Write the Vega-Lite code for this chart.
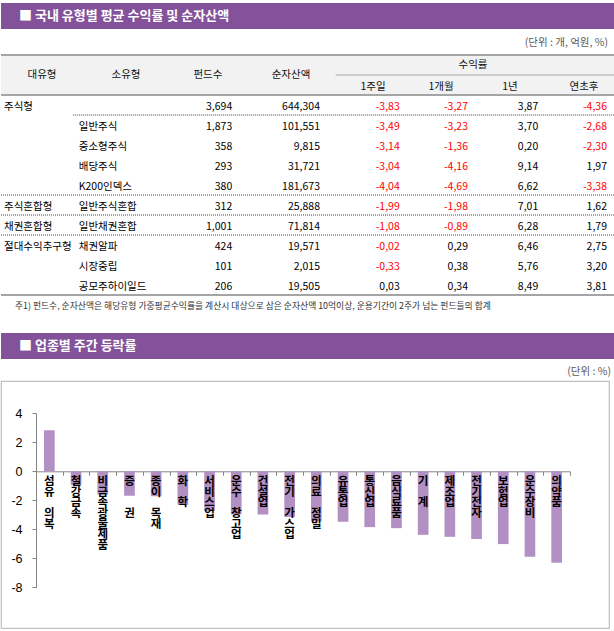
{
  "$schema": "https://vega.github.io/schema/vega-lite/v6.json",
  "background": "white",
  "padding": {"left": 0, "top": 3, "right": 0, "bottom": 0},
  "spacing": 0,
  "bounds": "flush",
  "config": {
    "view": {"stroke": null},
    "font": "Noto Sans CJK KR",
    "text": {"font": "Noto Sans CJK KR"},
    "locale": {"number": {"decimal": ",", "thousands": ",", "grouping": [3], "currency": ["", ""], "minus": "-"}}
  },
  "datasets": {
    "funds": [
      {"major": "주식형", "minor": "", "n": 3694, "aum": 644304, "w1": -3.83, "m1": -3.27, "y1": 3.87, "ytd": -4.36},
      {"major": "", "minor": "일반주식", "n": 1873, "aum": 101551, "w1": -3.49, "m1": -3.23, "y1": 3.70, "ytd": -2.68},
      {"major": "", "minor": "중소형주식", "n": 358, "aum": 9815, "w1": -3.14, "m1": -1.36, "y1": 0.20, "ytd": -2.30},
      {"major": "", "minor": "배당주식", "n": 293, "aum": 31721, "w1": -3.04, "m1": -4.16, "y1": 9.14, "ytd": 1.97},
      {"major": "", "minor": "K200인덱스", "n": 380, "aum": 181673, "w1": -4.04, "m1": -4.69, "y1": 6.62, "ytd": -3.38},
      {"major": "주식혼합형", "minor": "일반주식혼합", "n": 312, "aum": 25888, "w1": -1.99, "m1": -1.98, "y1": 7.01, "ytd": 1.62},
      {"major": "채권혼합형", "minor": "일반채권혼합", "n": 1001, "aum": 71814, "w1": -1.08, "m1": -0.89, "y1": 6.28, "ytd": 1.79},
      {"major": "절대수익추구형", "minor": "채권알파", "n": 424, "aum": 19571, "w1": -0.02, "m1": 0.29, "y1": 6.46, "ytd": 2.75},
      {"major": "", "minor": "시장중립", "n": 101, "aum": 2015, "w1": -0.33, "m1": 0.38, "y1": 5.76, "ytd": 3.20},
      {"major": "", "minor": "공모주하이일드", "n": 206, "aum": 19505, "w1": 0.03, "m1": 0.34, "y1": 8.49, "ytd": 3.81}
    ],
    "sectors": [
      {"sector": "섬유 의복", "value": 2.83},
      {"sector": "철강금속", "value": -0.95},
      {"sector": "비금속광물제품", "value": -1.6},
      {"sector": "증  권", "value": -1.68},
      {"sector": "종이 목재", "value": -1.72},
      {"sector": "화 학", "value": -2.3},
      {"sector": "서비스업", "value": -2.73},
      {"sector": "운수 창고업", "value": -2.97},
      {"sector": "건설업", "value": -2.98},
      {"sector": "전기 가스업", "value": -3.15},
      {"sector": "의료 정밀", "value": -3.45},
      {"sector": "유통업", "value": -3.48},
      {"sector": "통신업", "value": -3.85},
      {"sector": "음식료품", "value": -3.92},
      {"sector": "기 계", "value": -4.38},
      {"sector": "제조업", "value": -4.52},
      {"sector": "전기전자", "value": -4.67},
      {"sector": "보험업", "value": -5.02},
      {"sector": "운수장비", "value": -5.9},
      {"sector": "의약품", "value": -6.3}
    ]
  },
  "vconcat": [
    {
      "width": 614, "height": 26,
      "view": {"fill": "#83529A", "stroke": null},
      "data": {"values": [{}]},
      "mark": {"type": "text", "text": "■ 국내 유형별 평균 수익률 및 순자산액", "align": "left", "baseline": "middle", "color": "#FFFFFF", "fontSize": 13, "fontWeight": "bold"},
      "encoding": {"x": {"value": 18}, "y": {"value": 13}}
    },
    {
      "width": 614, "height": 304,
      "layer": [
        {
          "data": {"values": [{"k": "h1"}, {"k": "h2"}]},
          "mark": {"type": "rect", "color": "#F2F2F2"},
          "encoding": {
            "y": {"field": "k", "type": "nominal", "axis": null, "scale": {"type": "band", "domain": ["unit", "h1", "h2", "", "일반주식", "중소형주식", "배당주식", "K200인덱스", "일반주식혼합", "일반채권혼합", "채권알파", "시장중립", "공모주하이일드", "note"], "paddingInner": 0, "paddingOuter": 0.6, "align": 0.25}},
            "x": {"value": 0}, "x2": {"value": "width"}
          }
        },
        {
          "data": {"values": [{"k": "h1"}, {"k": ""}, {"k": "note"}]},
          "mark": {"type": "rule", "color": "#A5A5A5", "strokeWidth": 2},
          "encoding": {
            "y": {"field": "k", "type": "nominal", "bandPosition": 0, "axis": null, "scale": {"type": "band", "domain": ["unit", "h1", "h2", "", "일반주식", "중소형주식", "배당주식", "K200인덱스", "일반주식혼합", "일반채권혼합", "채권알파", "시장중립", "공모주하이일드", "note"], "paddingInner": 0, "paddingOuter": 0.6, "align": 0.25}},
            "x": {"value": 0}, "x2": {"value": "width"}
          }
        },
        {
          "data": {"values": [{}]},
          "mark": {"type": "rule", "color": "#A5A5A5", "strokeWidth": 1},
          "encoding": {
            "y": {"datum": "h2", "type": "nominal", "bandPosition": 0, "axis": null, "scale": {"type": "band", "domain": ["unit", "h1", "h2", "", "일반주식", "중소형주식", "배당주식", "K200인덱스", "일반주식혼합", "일반채권혼합", "채권알파", "시장중립", "공모주하이일드", "note"], "paddingInner": 0, "paddingOuter": 0.6, "align": 0.25}},
            "x": {"datum": "1주일", "type": "nominal", "bandPosition": 0.36, "axis": null, "scale": {"type": "band", "domain": ["대유형", "소유형", "펀드수", "순자산액", "1주일", "1개월", "1년", "연초후"], "paddingInner": 0, "paddingOuter": 0}},
            "x2": {"value": "width"}
          }
        },
        {
          "data": {"values": [{"k": "일반주식혼합"}, {"k": "일반채권혼합"}, {"k": "채권알파"}]},
          "mark": {"type": "rule", "color": "#444444", "strokeWidth": 1, "strokeDash": [1, 1]},
          "encoding": {
            "y": {"field": "k", "type": "nominal", "bandPosition": 0, "axis": null, "scale": {"type": "band", "domain": ["unit", "h1", "h2", "", "일반주식", "중소형주식", "배당주식", "K200인덱스", "일반주식혼합", "일반채권혼합", "채권알파", "시장중립", "공모주하이일드", "note"], "paddingInner": 0, "paddingOuter": 0.6, "align": 0.25}},
            "x": {"value": 0}, "x2": {"value": "width"}
          }
        },
        {
          "data": {"values": [{}]},
          "mark": {"type": "rule", "color": "#444444", "strokeWidth": 1, "strokeDash": [1, 1]},
          "encoding": {
            "y": {"datum": "일반주식", "type": "nominal", "bandPosition": 0, "axis": null, "scale": {"type": "band", "domain": ["unit", "h1", "h2", "", "일반주식", "중소형주식", "배당주식", "K200인덱스", "일반주식혼합", "일반채권혼합", "채권알파", "시장중립", "공모주하이일드", "note"], "paddingInner": 0, "paddingOuter": 0.6, "align": 0.25}},
            "x": {"datum": "소유형", "type": "nominal", "bandPosition": -0.06, "axis": null, "scale": {"type": "band", "domain": ["대유형", "소유형", "펀드수", "순자산액", "1주일", "1개월", "1년", "연초후"], "paddingInner": 0, "paddingOuter": 0}},
            "x2": {"value": "width"}
          }
        },
        {
          "data": {"values": [{"col": "대유형"}]},
          "mark": {"type": "text", "align": "center", "baseline": "middle", "fontSize": 10.5, "color": "#111111", "dx": 2.6},
          "encoding": {
            "x": {"field": "col", "type": "nominal", "bandPosition": 0.5, "axis": null, "scale": {"type": "band", "domain": ["대유형", "소유형", "펀드수", "순자산액", "1주일", "1개월", "1년", "연초후"], "paddingInner": 0, "paddingOuter": 0}},
            "y": {"datum": "h2", "type": "nominal", "bandPosition": 0, "axis": null, "scale": {"type": "band", "domain": ["unit", "h1", "h2", "", "일반주식", "중소형주식", "배당주식", "K200인덱스", "일반주식혼합", "일반채권혼합", "채권알파", "시장중립", "공모주하이일드", "note"], "paddingInner": 0, "paddingOuter": 0.6, "align": 0.25}},
            "text": {"field": "col", "type": "nominal"}
          }
        },
        {
          "data": {"values": [{"col": "소유형"}]},
          "mark": {"type": "text", "align": "center", "baseline": "middle", "fontSize": 10.5, "color": "#111111", "dx": 9.9},
          "encoding": {
            "x": {"field": "col", "type": "nominal", "bandPosition": 0.5, "axis": null, "scale": {"type": "band", "domain": ["대유형", "소유형", "펀드수", "순자산액", "1주일", "1개월", "1년", "연초후"], "paddingInner": 0, "paddingOuter": 0}},
            "y": {"datum": "h2", "type": "nominal", "bandPosition": 0, "axis": null, "scale": {"type": "band", "domain": ["unit", "h1", "h2", "", "일반주식", "중소형주식", "배당주식", "K200인덱스", "일반주식혼합", "일반채권혼합", "채권알파", "시장중립", "공모주하이일드", "note"], "paddingInner": 0, "paddingOuter": 0.6, "align": 0.25}},
            "text": {"field": "col", "type": "nominal"}
          }
        },
        {
          "data": {"values": [{"col": "펀드수"}]},
          "mark": {"type": "text", "align": "center", "baseline": "middle", "fontSize": 10.5, "color": "#111111", "dx": 15},
          "encoding": {
            "x": {"field": "col", "type": "nominal", "bandPosition": 0.5, "axis": null, "scale": {"type": "band", "domain": ["대유형", "소유형", "펀드수", "순자산액", "1주일", "1개월", "1년", "연초후"], "paddingInner": 0, "paddingOuter": 0}},
            "y": {"datum": "h2", "type": "nominal", "bandPosition": 0, "axis": null, "scale": {"type": "band", "domain": ["unit", "h1", "h2", "", "일반주식", "중소형주식", "배당주식", "K200인덱스", "일반주식혼합", "일반채권혼합", "채권알파", "시장중립", "공모주하이일드", "note"], "paddingInner": 0, "paddingOuter": 0.6, "align": 0.25}},
            "text": {"field": "col", "type": "nominal"}
          }
        },
        {
          "data": {"values": [{"col": "순자산액"}]},
          "mark": {"type": "text", "align": "center", "baseline": "middle", "fontSize": 10.5, "color": "#111111", "dx": 21.4},
          "encoding": {
            "x": {"field": "col", "type": "nominal", "bandPosition": 0.5, "axis": null, "scale": {"type": "band", "domain": ["대유형", "소유형", "펀드수", "순자산액", "1주일", "1개월", "1년", "연초후"], "paddingInner": 0, "paddingOuter": 0}},
            "y": {"datum": "h2", "type": "nominal", "bandPosition": 0, "axis": null, "scale": {"type": "band", "domain": ["unit", "h1", "h2", "", "일반주식", "중소형주식", "배당주식", "K200인덱스", "일반주식혼합", "일반채권혼합", "채권알파", "시장중립", "공모주하이일드", "note"], "paddingInner": 0, "paddingOuter": 0.6, "align": 0.25}},
            "text": {"field": "col", "type": "nominal"}
          }
        },
        {
          "data": {"values": [{"col": "1년", "label": "수익률"}]},
          "mark": {"type": "text", "align": "center", "baseline": "middle", "fontSize": 10.5, "color": "#111111", "dx": 11.5},
          "encoding": {
            "x": {"field": "col", "type": "nominal", "bandPosition": 0, "axis": null, "scale": {"type": "band", "domain": ["대유형", "소유형", "펀드수", "순자산액", "1주일", "1개월", "1년", "연초후"], "paddingInner": 0, "paddingOuter": 0}},
            "y": {"datum": "h1", "type": "nominal", "bandPosition": 0.5, "axis": null, "scale": {"type": "band", "domain": ["unit", "h1", "h2", "", "일반주식", "중소형주식", "배당주식", "K200인덱스", "일반주식혼합", "일반채권혼합", "채권알파", "시장중립", "공모주하이일드", "note"], "paddingInner": 0, "paddingOuter": 0.6, "align": 0.25}},
            "text": {"field": "label", "type": "nominal"}
          }
        },
        {
          "data": {"values": [{"col": "1주일"}]},
          "mark": {"type": "text", "align": "center", "baseline": "middle", "fontSize": 10.5, "color": "#111111", "dx": 26.6, "dy": 2},
          "encoding": {
            "x": {"field": "col", "type": "nominal", "bandPosition": 0.5, "axis": null, "scale": {"type": "band", "domain": ["대유형", "소유형", "펀드수", "순자산액", "1주일", "1개월", "1년", "연초후"], "paddingInner": 0, "paddingOuter": 0}},
            "y": {"datum": "h2", "type": "nominal", "bandPosition": 0.5, "axis": null, "scale": {"type": "band", "domain": ["unit", "h1", "h2", "", "일반주식", "중소형주식", "배당주식", "K200인덱스", "일반주식혼합", "일반채권혼합", "채권알파", "시장중립", "공모주하이일드", "note"], "paddingInner": 0, "paddingOuter": 0.6, "align": 0.25}},
            "text": {"field": "col", "type": "nominal"}
          }
        },
        {
          "data": {"values": [{"col": "1개월"}]},
          "mark": {"type": "text", "align": "center", "baseline": "middle", "fontSize": 10.5, "color": "#111111", "dx": 17.9, "dy": 2},
          "encoding": {
            "x": {"field": "col", "type": "nominal", "bandPosition": 0.5, "axis": null, "scale": {"type": "band", "domain": ["대유형", "소유형", "펀드수", "순자산액", "1주일", "1개월", "1년", "연초후"], "paddingInner": 0, "paddingOuter": 0}},
            "y": {"datum": "h2", "type": "nominal", "bandPosition": 0.5, "axis": null, "scale": {"type": "band", "domain": ["unit", "h1", "h2", "", "일반주식", "중소형주식", "배당주식", "K200인덱스", "일반주식혼합", "일반채권혼합", "채권알파", "시장중립", "공모주하이일드", "note"], "paddingInner": 0, "paddingOuter": 0.6, "align": 0.25}},
            "text": {"field": "col", "type": "nominal"}
          }
        },
        {
          "data": {"values": [{"col": "1년"}]},
          "mark": {"type": "text", "align": "center", "baseline": "middle", "fontSize": 10.5, "color": "#111111", "dx": 10.1, "dy": 2},
          "encoding": {
            "x": {"field": "col", "type": "nominal", "bandPosition": 0.5, "axis": null, "scale": {"type": "band", "domain": ["대유형", "소유형", "펀드수", "순자산액", "1주일", "1개월", "1년", "연초후"], "paddingInner": 0, "paddingOuter": 0}},
            "y": {"datum": "h2", "type": "nominal", "bandPosition": 0.5, "axis": null, "scale": {"type": "band", "domain": ["unit", "h1", "h2", "", "일반주식", "중소형주식", "배당주식", "K200인덱스", "일반주식혼합", "일반채권혼합", "채권알파", "시장중립", "공모주하이일드", "note"], "paddingInner": 0, "paddingOuter": 0.6, "align": 0.25}},
            "text": {"field": "col", "type": "nominal"}
          }
        },
        {
          "data": {"values": [{"col": "연초후"}]},
          "mark": {"type": "text", "align": "center", "baseline": "middle", "fontSize": 10.5, "color": "#111111", "dx": 7.4, "dy": 2},
          "encoding": {
            "x": {"field": "col", "type": "nominal", "bandPosition": 0.5, "axis": null, "scale": {"type": "band", "domain": ["대유형", "소유형", "펀드수", "순자산액", "1주일", "1개월", "1년", "연초후"], "paddingInner": 0, "paddingOuter": 0}},
            "y": {"datum": "h2", "type": "nominal", "bandPosition": 0.5, "axis": null, "scale": {"type": "band", "domain": ["unit", "h1", "h2", "", "일반주식", "중소형주식", "배당주식", "K200인덱스", "일반주식혼합", "일반채권혼합", "채권알파", "시장중립", "공모주하이일드", "note"], "paddingInner": 0, "paddingOuter": 0.6, "align": 0.25}},
            "text": {"field": "col", "type": "nominal"}
          }
        },
        {
          "data": {"name": "funds"},
          "mark": {"type": "text", "align": "left", "baseline": "middle", "fontSize": 10.5, "color": "#000000", "dx": 3, "dy": 1.5},
          "encoding": {
            "x": {"datum": "대유형", "type": "nominal", "bandPosition": 0, "axis": null, "scale": {"type": "band", "domain": ["대유형", "소유형", "펀드수", "순자산액", "1주일", "1개월", "1년", "연초후"], "paddingInner": 0, "paddingOuter": 0}},
            "y": {"field": "minor", "type": "nominal", "axis": null, "scale": {"type": "band", "domain": ["unit", "h1", "h2", "", "일반주식", "중소형주식", "배당주식", "K200인덱스", "일반주식혼합", "일반채권혼합", "채권알파", "시장중립", "공모주하이일드", "note"], "paddingInner": 0, "paddingOuter": 0.6, "align": 0.25}},
            "text": {"field": "major", "type": "nominal"}
          }
        },
        {
          "data": {"name": "funds"},
          "mark": {"type": "text", "align": "left", "baseline": "middle", "fontSize": 10.5, "color": "#000000", "dx": 1, "dy": 1.5},
          "encoding": {
            "x": {"datum": "소유형", "type": "nominal", "bandPosition": 0, "axis": null, "scale": {"type": "band", "domain": ["대유형", "소유형", "펀드수", "순자산액", "1주일", "1개월", "1년", "연초후"], "paddingInner": 0, "paddingOuter": 0}},
            "y": {"field": "minor", "type": "nominal", "axis": null, "scale": {"type": "band", "domain": ["unit", "h1", "h2", "", "일반주식", "중소형주식", "배당주식", "K200인덱스", "일반주식혼합", "일반채권혼합", "채권알파", "시장중립", "공모주하이일드", "note"], "paddingInner": 0, "paddingOuter": 0.6, "align": 0.25}},
            "text": {"field": "minor", "type": "nominal"}
          }
        },
        {
          "data": {"name": "funds"},
          "mark": {"type": "text", "align": "right", "baseline": "middle", "fontSize": 10.5, "color": "#000000", "dx": 1, "dy": 1.5},
          "encoding": {
            "x": {"datum": "펀드수", "type": "nominal", "bandPosition": 1, "axis": null, "scale": {"type": "band", "domain": ["대유형", "소유형", "펀드수", "순자산액", "1주일", "1개월", "1년", "연초후"], "paddingInner": 0, "paddingOuter": 0}},
            "y": {"field": "minor", "type": "nominal", "axis": null, "scale": {"type": "band", "domain": ["unit", "h1", "h2", "", "일반주식", "중소형주식", "배당주식", "K200인덱스", "일반주식혼합", "일반채권혼합", "채권알파", "시장중립", "공모주하이일드", "note"], "paddingInner": 0, "paddingOuter": 0.6, "align": 0.25}},
            "text": {"field": "n", "type": "quantitative", "format": ",d"}
          }
        },
        {
          "data": {"name": "funds"},
          "mark": {"type": "text", "align": "right", "baseline": "middle", "fontSize": 10.5, "color": "#000000", "dx": 12, "dy": 1.5},
          "encoding": {
            "x": {"datum": "순자산액", "type": "nominal", "bandPosition": 1, "axis": null, "scale": {"type": "band", "domain": ["대유형", "소유형", "펀드수", "순자산액", "1주일", "1개월", "1년", "연초후"], "paddingInner": 0, "paddingOuter": 0}},
            "y": {"field": "minor", "type": "nominal", "axis": null, "scale": {"type": "band", "domain": ["unit", "h1", "h2", "", "일반주식", "중소형주식", "배당주식", "K200인덱스", "일반주식혼합", "일반채권혼합", "채권알파", "시장중립", "공모주하이일드", "note"], "paddingInner": 0, "paddingOuter": 0.6, "align": 0.25}},
            "text": {"field": "aum", "type": "quantitative", "format": ",d"}
          }
        },
        {
          "data": {"name": "funds"},
          "mark": {"type": "text", "align": "right", "baseline": "middle", "fontSize": 10.5, "dx": 15, "dy": 1.5},
          "encoding": {
            "x": {"datum": "1주일", "type": "nominal", "bandPosition": 1, "axis": null, "scale": {"type": "band", "domain": ["대유형", "소유형", "펀드수", "순자산액", "1주일", "1개월", "1년", "연초후"], "paddingInner": 0, "paddingOuter": 0}},
            "y": {"field": "minor", "type": "nominal", "axis": null, "scale": {"type": "band", "domain": ["unit", "h1", "h2", "", "일반주식", "중소형주식", "배당주식", "K200인덱스", "일반주식혼합", "일반채권혼합", "채권알파", "시장중립", "공모주하이일드", "note"], "paddingInner": 0, "paddingOuter": 0.6, "align": 0.25}},
            "text": {"field": "w1", "type": "quantitative", "format": ",.2f"},
            "color": {"condition": {"test": "datum.w1 < 0", "value": "#FF0000"}, "value": "#000000"}
          }
        },
        {
          "data": {"name": "funds"},
          "mark": {"type": "text", "align": "right", "baseline": "middle", "fontSize": 10.5, "dx": 6.5, "dy": 1.5},
          "encoding": {
            "x": {"datum": "1개월", "type": "nominal", "bandPosition": 1, "axis": null, "scale": {"type": "band", "domain": ["대유형", "소유형", "펀드수", "순자산액", "1주일", "1개월", "1년", "연초후"], "paddingInner": 0, "paddingOuter": 0}},
            "y": {"field": "minor", "type": "nominal", "axis": null, "scale": {"type": "band", "domain": ["unit", "h1", "h2", "", "일반주식", "중소형주식", "배당주식", "K200인덱스", "일반주식혼합", "일반채권혼합", "채권알파", "시장중립", "공모주하이일드", "note"], "paddingInner": 0, "paddingOuter": 0.6, "align": 0.25}},
            "text": {"field": "m1", "type": "quantitative", "format": ",.2f"},
            "color": {"condition": {"test": "datum.m1 < 0", "value": "#FF0000"}, "value": "#000000"}
          }
        },
        {
          "data": {"name": "funds"},
          "mark": {"type": "text", "align": "right", "baseline": "middle", "fontSize": 10.5, "dx": 0, "dy": 1.5},
          "encoding": {
            "x": {"datum": "1년", "type": "nominal", "bandPosition": 1, "axis": null, "scale": {"type": "band", "domain": ["대유형", "소유형", "펀드수", "순자산액", "1주일", "1개월", "1년", "연초후"], "paddingInner": 0, "paddingOuter": 0}},
            "y": {"field": "minor", "type": "nominal", "axis": null, "scale": {"type": "band", "domain": ["unit", "h1", "h2", "", "일반주식", "중소형주식", "배당주식", "K200인덱스", "일반주식혼합", "일반채권혼합", "채권알파", "시장중립", "공모주하이일드", "note"], "paddingInner": 0, "paddingOuter": 0.6, "align": 0.25}},
            "text": {"field": "y1", "type": "quantitative", "format": ",.2f"},
            "color": {"condition": {"test": "datum.y1 < 0", "value": "#FF0000"}, "value": "#000000"}
          }
        },
        {
          "data": {"name": "funds"},
          "mark": {"type": "text", "align": "right", "baseline": "middle", "fontSize": 10.5, "dx": -8, "dy": 1.5},
          "encoding": {
            "x": {"datum": "연초후", "type": "nominal", "bandPosition": 1, "axis": null, "scale": {"type": "band", "domain": ["대유형", "소유형", "펀드수", "순자산액", "1주일", "1개월", "1년", "연초후"], "paddingInner": 0, "paddingOuter": 0}},
            "y": {"field": "minor", "type": "nominal", "axis": null, "scale": {"type": "band", "domain": ["unit", "h1", "h2", "", "일반주식", "중소형주식", "배당주식", "K200인덱스", "일반주식혼합", "일반채권혼합", "채권알파", "시장중립", "공모주하이일드", "note"], "paddingInner": 0, "paddingOuter": 0.6, "align": 0.25}},
            "text": {"field": "ytd", "type": "quantitative", "format": ",.2f"},
            "color": {"condition": {"test": "datum.ytd < 0", "value": "#FF0000"}, "value": "#000000"}
          }
        },
        {
          "data": {"values": [{"label": "(단위 : 개, 억원, %)"}]},
          "mark": {"type": "text", "align": "right", "baseline": "middle", "fontSize": 10.5, "color": "#595959", "dx": -7, "dy": -2},
          "encoding": {
            "x": {"value": "width"},
            "y": {"datum": "unit", "type": "nominal", "bandPosition": 0.5, "axis": null, "scale": {"type": "band", "domain": ["unit", "h1", "h2", "", "일반주식", "중소형주식", "배당주식", "K200인덱스", "일반주식혼합", "일반채권혼합", "채권알파", "시장중립", "공모주하이일드", "note"], "paddingInner": 0, "paddingOuter": 0.6, "align": 0.25}},
            "text": {"field": "label", "type": "nominal"}
          }
        },
        {
          "data": {"values": [{"label": "주1) 펀드수, 순자산액은 해당유형 가중평균수익률을 계산시 대상으로 삼은 순자산액 10억이상, 운용기간이 2주가 넘는 펀드들의 합계"}]},
          "mark": {"type": "text", "align": "left", "baseline": "middle", "fontSize": 8.8, "color": "#333333", "dx": 14, "dy": 1},
          "encoding": {
            "x": {"datum": "대유형", "type": "nominal", "bandPosition": 0, "axis": null, "scale": {"type": "band", "domain": ["대유형", "소유형", "펀드수", "순자산액", "1주일", "1개월", "1년", "연초후"], "paddingInner": 0, "paddingOuter": 0}},
            "y": {"datum": "note", "type": "nominal", "bandPosition": 0.5, "axis": null, "scale": {"type": "band", "domain": ["unit", "h1", "h2", "", "일반주식", "중소형주식", "배당주식", "K200인덱스", "일반주식혼합", "일반채권혼합", "채권알파", "시장중립", "공모주하이일드", "note"], "paddingInner": 0, "paddingOuter": 0.6, "align": 0.25}},
            "text": {"field": "label", "type": "nominal"}
          }
        }
      ]
    },
    {
      "width": 614, "height": 26,
      "view": {"fill": "#83529A", "stroke": null},
      "data": {"values": [{}]},
      "mark": {"type": "text", "text": "■ 업종별 주간 등락률", "align": "left", "baseline": "middle", "color": "#FFFFFF", "fontSize": 13, "fontWeight": "bold"},
      "encoding": {"x": {"value": 18}, "y": {"value": 13}}
    },
    {
      "width": 614, "height": 22,
      "data": {"values": [{}]},
      "mark": {"type": "text", "text": "(단위 : %)", "align": "right", "baseline": "middle", "color": "#595959", "fontSize": 10.5},
      "encoding": {"x": {"value": 610}, "y": {"value": 13}}
    },
    {
      "width": 608, "height": 247,
      "view": {"stroke": "#BFBFBF", "strokeWidth": 1.2},
      "data": {"name": "sectors"},
      "encoding": {
        "x": {"field": "sector", "type": "nominal", "sort": null,
              "scale": {"type": "band", "domain": ["섬유 의복", "철강금속", "비금속광물제품", "증  권", "종이 목재", "화 학", "서비스업", "운수 창고업", "건설업", "전기 가스업", "의료 정밀", "유통업", "통신업", "음식료품", "기 계", "제조업", "전기전자", "보험업", "운수장비", "의약품"], "range": [35, 569], "paddingInner": 0, "paddingOuter": 0},
              "axis": {"orient": "bottom", "offset": -156.7, "tickBand": "extent", "labels": false, "domain": true, "domainColor": "#868686", "domainWidth": 1, "grid": false, "ticks": true, "tickSize": 4, "tickColor": "#868686", "title": null}}
      },
      "layer": [
        {
          "mark": {"type": "bar", "color": "#B390C4", "width": {"band": 0.4}},
          "encoding": {
            "y": {"field": "value", "type": "quantitative",
                  "scale": {"type": "linear", "domain": [-8, 4], "range": [206.3, 32.3], "nice": false, "zero": false},
                  "axis": {"values": [-8, -6, -4, -2, 0, 2, 4], "offset": -35, "domain": true, "domainColor": "#868686", "domainWidth": 1, "grid": false, "ticks": true, "tickSize": 4, "tickColor": "#868686", "labelPadding": 10, "labelFont": "Liberation Sans", "labelFontSize": 12.5, "labelColor": "#000000", "title": null}},
            "y2": {"datum": 0}
          }
        },
        {
          "transform": [{"calculate": "split(replace(datum.sector, regexp(' ', 'g'), '\u200b'), '')", "as": "chars"}],
          "mark": {"type": "text", "align": "center", "baseline": "top", "fontSize": 11.5, "fontWeight": "bold", "lineHeight": 10.6, "dy": 5, "color": "#000000"},
          "encoding": {
            "y": {"datum": 0, "type": "quantitative"},
            "text": {"field": "chars", "type": "nominal"}
          }
        }
      ]
    }
  ]
}
